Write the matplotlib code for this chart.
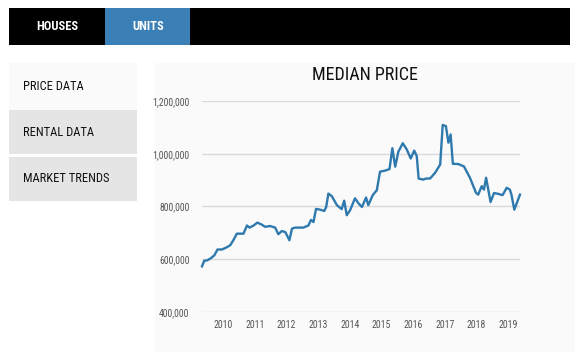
import matplotlib
matplotlib.use("Agg")
import matplotlib.pyplot as plt
from matplotlib import font_manager
from matplotlib.patches import Rectangle
from matplotlib.ticker import FuncFormatter

# median unit price (decimal year, price)
years = [2009.33, 2009.40, 2009.50, 2009.61, 2009.72, 2009.82, 2009.96, 2010.09,
         2010.22, 2010.32, 2010.43, 2010.64, 2010.75, 2010.83, 2010.96, 2011.08,
         2011.22, 2011.32, 2011.48, 2011.64, 2011.74, 2011.85, 2011.96, 2012.09,
         2012.17, 2012.27, 2012.53, 2012.69, 2012.77, 2012.85, 2012.93, 2013.06,
         2013.19, 2013.25, 2013.32, 2013.43, 2013.59, 2013.74, 2013.82, 2013.90,
         2014.01, 2014.16, 2014.27, 2014.38, 2014.51, 2014.58, 2014.72, 2014.85,
         2014.95, 2015.11, 2015.25, 2015.34, 2015.43, 2015.53, 2015.67, 2015.80,
         2015.92, 2016.03, 2016.11, 2016.17, 2016.32, 2016.40, 2016.53, 2016.69,
         2016.85, 2016.93, 2017.03, 2017.11, 2017.18, 2017.25, 2017.42, 2017.60,
         2017.79, 2017.98, 2018.05, 2018.16, 2018.23, 2018.30, 2018.44, 2018.55,
         2018.68, 2018.82, 2018.95, 2019.05, 2019.10, 2019.19, 2019.37]
prices = [573000, 594000, 596000, 604000, 615000, 637000, 637000, 644000,
          653000, 672000, 697000, 697000, 728000, 720000, 728000, 739000,
          731000, 723000, 726000, 720000, 695000, 707000, 703000, 672000,
          716000, 720000, 720000, 728000, 749000, 741000, 791000, 788000,
          783000, 798000, 849000, 839000, 805000, 790000, 822000, 767000,
          787000, 831000, 812000, 798000, 834000, 805000, 843000, 862000,
          932000, 936000, 942000, 1021000, 951000, 1008000, 1040000, 1015000,
          982000, 1012000, 991000, 906000, 902000, 906000, 906000, 928000,
          959000, 1109000, 1105000, 1042000, 1073000, 962000, 961000, 952000,
          909000, 852000, 845000, 877000, 864000, 909000, 817000, 851000,
          848000, 843000, 871000, 864000, 845000, 788000, 845000]

year_ticks = [2010, 2011, 2012, 2013, 2014, 2015, 2016, 2017, 2018, 2019]
price_ticks = [400000, 600000, 800000, 1000000, 1200000]
tabs = ["HOUSES", "UNITS"]
menu = ["PRICE DATA", "RENTAL DATA", "MARKET TRENDS"]

W, H = 580, 352

# prefer a narrow face if one happens to be installed
names = {f.name for f in font_manager.fontManager.ttflist}
narrow = [n for n in ["Liberation Sans Narrow", "Roboto Condensed", "DejaVu Sans Condensed",
                      "Open Sans Condensed"] if n in names]
FONT = narrow[:1] + ["DejaVu Sans"]
plt.rcParams["font.family"] = FONT
squeeze = 1.0 if narrow else 0.85

fig = plt.figure(figsize=(W / 100, H / 100), dpi=100)
fig.patch.set_facecolor("white")


def box(x, y, w, h, color):
    # rectangle in pixel coords, origin top-left
    fig.patches.append(Rectangle((x / W, 1 - (y + h) / H), w / W, h / H,
                                 transform=fig.transFigure, facecolor=color,
                                 edgecolor="none", zorder=-5))


def label(x, y, s, **kw):
    fig.text(x / W, 1 - y / H, s, va="center", **kw)


# top tab bar
box(9, 8, 561, 37, "black")
box(105, 8, 85, 37, "#3a7fb6")
label(57, 27, tabs[0], ha="center", color="white", fontsize=9 * squeeze, fontweight="bold")
label(148, 27, tabs[1], ha="center", color="white", fontsize=9 * squeeze, fontweight="bold")

# side menu
menu_boxes = [(63, 47, "#fafafa"), (110, 44, "#e5e5e5"), (157, 44, "#e5e5e5")]
for (y0, h0, c), name in zip(menu_boxes, menu):
    box(9, y0, 128, h0, c)
    label(23, y0 + h0 / 2, name, ha="left", color="#111111", fontsize=9 * squeeze)

# chart panel
box(155, 63, 420, 289, "#fafafa")
label(365, 75, "MEDIAN PRICE", ha="center", color="#111111", fontsize=13 * squeeze)

ax = fig.add_axes([202 / W, 40 / H, 318 / W, 211 / H])
ax.set_facecolor("none")
ax.plot(years, prices, color="#2e79ad", lw=1.7, solid_joinstyle="round", clip_on=False)
ax.set_xlim(2009.33, 2019.37)
ax.set_ylim(400000, 1200000)
ax.set_xticks(year_ticks)
ax.set_yticks(price_ticks)
ax.yaxis.set_major_formatter(FuncFormatter(lambda v, p: f"{int(v):,}"))
ax.grid(axis="y", color="#dadada", lw=1)
ax.set_axisbelow(True)
for s in ax.spines.values():
    s.set_visible(False)
ax.tick_params(length=0, labelsize=7 * squeeze, colors="#555555")
ax.tick_params(axis="y", pad=9)
ax.tick_params(axis="x", pad=6)

fig.savefig("out.png", dpi=100)
